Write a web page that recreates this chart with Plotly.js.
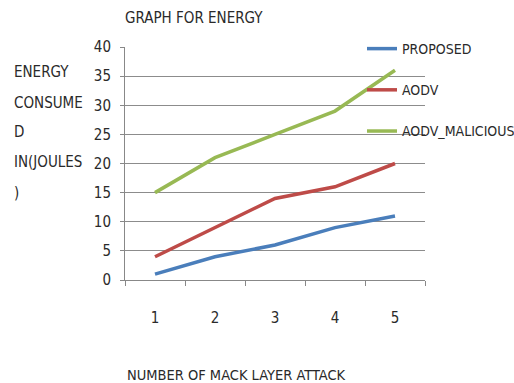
<!DOCTYPE html>
<html>
<head>
<meta charset="utf-8">
<script src="https://cdn.plot.ly/plotly-3.0.1.min.js"></script>
<style>html,body{margin:0;padding:0;background:#fff;}#chart{width:514px;height:383px;}</style>
</head>
<body>
<div id="chart"></div>
<script>
const categories = [1, 2, 3, 4, 5];
const proposed = [1, 4, 6, 9, 11];
const aodv = [4, 9, 14, 16, 20];
const aodvMalicious = [15, 21, 25, 29, 36];
const seriesNames = ["PROPOSED", "AODV", "AODV_MALICIOUS"];
const yTitleLines = ["ENERGY", "CONSUME", "D", "IN(JOULES", ")"];

const FONT = "'Liberation Sans Narrow', 'Arial Narrow', 'DejaVu Sans Condensed', sans-serif";
const TXT = "#2a2a2a";

const traces = [
  {x: categories, y: proposed, name: seriesNames[0], line: {color: "#4a7ebb", width: 3.5}, legendgroup: "a"},
  {x: categories, y: aodv, name: seriesNames[1], line: {color: "#be4b48", width: 3.5}, legendgroup: "b"},
  {x: categories, y: aodvMalicious, name: seriesNames[2], line: {color: "#98b954", width: 3.5}, legendgroup: "c"}
].map(t => Object.assign({type: "scatter", mode: "lines"}, t));

const annotations = yTitleLines.map((t, i) => ({
  text: t, xref: "paper", yref: "paper", x: -0.377, y: (280 - [72, 103, 132, 162, 193][i]) / 233,
  xanchor: "left", yanchor: "middle", showarrow: false, font: {family: FONT, size: 15, color: TXT}
}));
annotations.push({
  text: "NUMBER OF MACK LAYER ATTACK", xref: "paper", yref: "paper", x: 0.373, y: -95 / 233,
  xanchor: "center", yanchor: "middle", showarrow: false, font: {family: FONT, size: 14.5, color: TXT}
});

const layout = {
  width: 514, height: 383,
  margin: {l: 125, r: 89, t: 47, b: 103, autoexpand: false},
  paper_bgcolor: "#fff", plot_bgcolor: "#fff",
  font: {family: FONT, color: TXT, size: 14},
  title: {text: "GRAPH FOR ENERGY", x: 125 / 514, xanchor: "left", y: 1 - 18 / 383, yanchor: "middle",
          font: {family: FONT, size: 15, color: TXT}},
  showlegend: true,
  legend: {x: 0.79, y: 1.06, xanchor: "left", yanchor: "top", bgcolor: "rgba(0,0,0,0)",
           traceorder: "grouped", tracegroupgap: 20, font: {family: FONT, size: 14, color: TXT}},
  xaxis: {
    range: [0.5, 5.5], tickmode: "array", tickvals: categories, ticktext: categories.map(String),
    ticks: "", showgrid: false, zeroline: false, showline: true, linecolor: "#888", linewidth: 1,
    ticklabelstandoff: 24, tickfont: {family: FONT, size: 15, color: TXT},
    minor: {tick0: 0.5, dtick: 1, ticks: "outside", ticklen: 5, tickcolor: "#888", showgrid: false}
  },
  yaxis: {
    range: [0, 40], dtick: 5, showgrid: true, gridcolor: "#8c8c8c", gridwidth: 1,
    zeroline: false, showline: true, linecolor: "#888", linewidth: 1,
    ticks: "outside", ticklen: 4, tickcolor: "#888", ticklabelstandoff: 6,
    tickfont: {family: FONT, size: 15, color: TXT}
  },
  annotations: annotations
};

Plotly.newPlot("chart", traces, layout, {displayModeBar: false, staticPlot: true});
</script>
</body>
</html>
